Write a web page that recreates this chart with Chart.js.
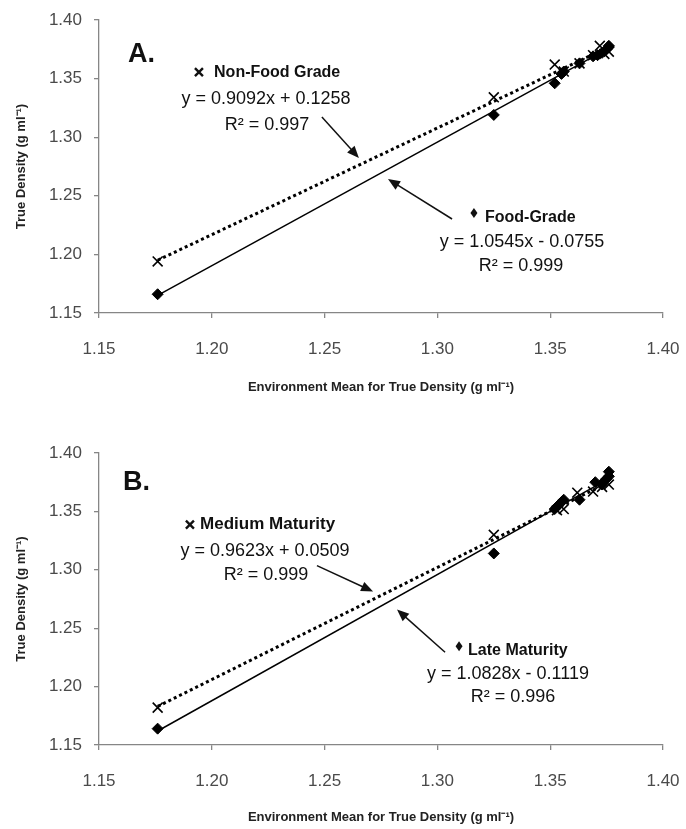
<!DOCTYPE html>
<html>
<head>
<meta charset="utf-8">
<script src="https://cdn.jsdelivr.net/npm/chart.js@4.4.1/dist/chart.umd.min.js"></script>
<style>
  html, body { margin: 0; padding: 0; background: #fff; }
  canvas { display: block; }
</style>
</head>
<body>
<canvas id="panelA" width="686" height="415"></canvas>
<canvas id="panelB" width="686" height="414"></canvas>
<script>
// Ejes compartidos
const xTicks = [1.15, 1.20, 1.25, 1.30, 1.35, 1.40];
const yTicks = [1.15, 1.20, 1.25, 1.30, 1.35, 1.40];

// Panel A: Food-Grade (rombos) y Non-Food Grade (cruces)
const foodX = [1.176, 1.325, 1.352, 1.355, 1.356, 1.363, 1.369, 1.371, 1.373, 1.375, 1.376, 1.376];
const foodY = [1.166, 1.319, 1.346, 1.354, 1.356, 1.363, 1.369, 1.370, 1.372, 1.375, 1.377, 1.378];
const nonFoodX = [1.176, 1.325, 1.352, 1.356, 1.363, 1.369, 1.372, 1.374, 1.376];
const nonFoodY = [1.194, 1.334, 1.362, 1.356, 1.363, 1.370, 1.378, 1.371, 1.373];
const foodTrendX = [1.176, 1.376];
const foodTrendY = [1.165, 1.376];
const nonFoodTrendX = [1.176, 1.376];
const nonFoodTrendY = [1.195, 1.377];

// Panel B: Late Maturity (rombos) y Medium Maturity (cruces)
const lateX = [1.176, 1.325, 1.352, 1.353, 1.354, 1.355, 1.356, 1.363, 1.370, 1.373, 1.374, 1.375, 1.376, 1.376];
const lateY = [1.164, 1.314, 1.352, 1.354, 1.356, 1.358, 1.360, 1.360, 1.375, 1.373, 1.376, 1.378, 1.380, 1.384];
const mediumX = [1.176, 1.325, 1.353, 1.356, 1.362, 1.369, 1.373, 1.376];
const mediumY = [1.182, 1.330, 1.351, 1.352, 1.366, 1.367, 1.371, 1.373];
const lateTrendX = [1.176, 1.376];
const lateTrendY = [1.162, 1.378];
const mediumTrendX = [1.176, 1.376];
const mediumTrendY = [1.183, 1.375];

const TXT = '#111';
const EJE = '#868686';
const FUENTE = '"Liberation Sans", Arial, sans-serif';

function toPoints(xs, ys) {
    return xs.map((v, i) => ({ x: v, y: ys[i] }));
}

// Flecha con punta rellena
function drawArrow(ctx, x0, y0, x1, y1) {
    const ang = Math.atan2(y1 - y0, x1 - x0);
    const len = 12, half = 5;
    ctx.beginPath();
    ctx.moveTo(x0, y0);
    ctx.lineTo(x1 - Math.cos(ang) * len * 0.8, y1 - Math.sin(ang) * len * 0.8);
    ctx.lineWidth = 1.5;
    ctx.stroke();
    ctx.beginPath();
    ctx.moveTo(x1, y1);
    ctx.lineTo(x1 - Math.cos(ang) * len + Math.sin(ang) * half, y1 - Math.sin(ang) * len - Math.cos(ang) * half);
    ctx.lineTo(x1 - Math.cos(ang) * len - Math.sin(ang) * half, y1 - Math.sin(ang) * len + Math.cos(ang) * half);
    ctx.closePath();
    ctx.fill();
}

function drawNotes(chart, notes) {
    const { ctx, scales: { x, y } } = chart;
    ctx.save();
    ctx.fillStyle = TXT;
    ctx.strokeStyle = TXT;
    ctx.textBaseline = 'middle';
    notes.texts.forEach(t => {
        ctx.font = t.font;
        ctx.textAlign = t.align || 'center';
        ctx.fillText(t.text, x.getPixelForValue(t.x), y.getPixelForValue(t.y));
    });
    notes.arrows.forEach(a => {
        drawArrow(ctx, x.getPixelForValue(a[0]), y.getPixelForValue(a[1]),
                  x.getPixelForValue(a[2]), y.getPixelForValue(a[3]));
    });
    // marcador cruz de la leyenda
    const cx = x.getPixelForValue(notes.cross[0]), cy = y.getPixelForValue(notes.cross[1]);
    ctx.lineWidth = 2.4;
    ctx.beginPath();
    ctx.moveTo(cx - 4, cy - 4); ctx.lineTo(cx + 4, cy + 4);
    ctx.moveTo(cx + 4, cy - 4); ctx.lineTo(cx - 4, cy + 4);
    ctx.stroke();
    // marcador rombo de la leyenda
    const dx = x.getPixelForValue(notes.diamond[0]), dy = y.getPixelForValue(notes.diamond[1]);
    ctx.beginPath();
    ctx.moveTo(dx, dy - 5); ctx.lineTo(dx + 3.5, dy); ctx.lineTo(dx, dy + 5); ctx.lineTo(dx - 3.5, dy);
    ctx.closePath();
    ctx.fill();
    ctx.restore();
}

function buildPanel(canvasId, cfg) {
    const ctx = document.getElementById(canvasId).getContext('2d');
    return new Chart(ctx, {
        type: 'scatter',
        data: {
            datasets: [
                {
                    label: cfg.crossName,
                    data: toPoints(cfg.crossX, cfg.crossY),
                    pointStyle: 'crossRot',
                    pointRadius: 7,
                    borderColor: '#000',
                    borderWidth: 1.6
                },
                {
                    label: cfg.diamondName,
                    data: toPoints(cfg.diamondX, cfg.diamondY),
                    pointStyle: 'rectRot',
                    pointRadius: 5.5,
                    backgroundColor: '#000',
                    borderColor: '#000',
                    borderWidth: 1
                },
                {
                    label: 'Tendencia ' + cfg.crossName,
                    data: toPoints(cfg.crossTrendX, cfg.crossTrendY),
                    showLine: true,
                    pointRadius: 0,
                    borderColor: '#000',
                    borderWidth: 3,
                    borderDash: [3, 3]
                },
                {
                    label: 'Tendencia ' + cfg.diamondName,
                    data: toPoints(cfg.diamondTrendX, cfg.diamondTrendY),
                    showLine: true,
                    pointRadius: 0,
                    borderColor: '#000',
                    borderWidth: 1.5
                }
            ]
        },
        options: {
            responsive: false,
            animation: false,
            layout: { padding: { left: 0, right: 23, top: cfg.top, bottom: 0 } },
            plugins: {
                legend: { display: false },
                tooltip: { enabled: false }
            },
            scales: {
                x: {
                    type: 'linear',
                    min: 1.15,
                    max: 1.40,
                    afterBuildTicks: s => { s.ticks = xTicks.map(v => ({ value: v })); },
                    // el padding de las etiquetas no debe encoger el área del gráfico
                    afterFit: s => { s.height = cfg.xHeight; s.paddingLeft = 0; s.paddingRight = 0; },
                    ticks: {
                        callback: v => v.toFixed(2),
                        color: '#4a4a4a',
                        font: { family: FUENTE, size: 17 },
                        padding: 21,
                        maxRotation: 0
                    },
                    grid: { drawOnChartArea: false, tickLength: 5, color: EJE, lineWidth: 1.3 },
                    border: { color: EJE, width: 1.3 },
                    title: {
                        display: true,
                        text: 'Environment Mean for True Density (g ml⁻¹)',
                        color: '#222',
                        font: { family: FUENTE, size: 13, weight: 'bold' },
                        padding: { bottom: cfg.xTitlePad }
                    }
                },
                y: {
                    type: 'linear',
                    min: 1.15,
                    max: 1.40,
                    afterBuildTicks: s => { s.ticks = yTicks.map(v => ({ value: v })); },
                    afterFit: s => { s.width = 99; s.paddingTop = 0; s.paddingBottom = 0; },
                    ticks: {
                        callback: v => v.toFixed(2),
                        color: '#4a4a4a',
                        font: { family: FUENTE, size: 17 },
                        padding: 12
                    },
                    grid: { drawOnChartArea: false, tickLength: 5, color: EJE, lineWidth: 1.3 },
                    border: { color: EJE, width: 1.3 },
                    title: {
                        display: true,
                        text: 'True Density (g ml⁻¹)',
                        color: '#222',
                        font: { family: FUENTE, size: 13, weight: 'bold' },
                        padding: { top: 14 }
                    }
                }
            }
        },
        plugins: [{ id: 'notas', afterDatasetsDraw: chart => drawNotes(chart, cfg.notes) }]
    });
}

const F_EQ = '18px ' + FUENTE;
const F_PANEL = 'bold 27px ' + FUENTE;

buildPanel('panelA', {
    top: 20, xHeight: 102, xTitlePad: 20,
    crossName: 'Non-Food Grade', diamondName: 'Food-Grade',
    crossX: nonFoodX, crossY: nonFoodY, diamondX: foodX, diamondY: foodY,
    crossTrendX: nonFoodTrendX, crossTrendY: nonFoodTrendY,
    diamondTrendX: foodTrendX, diamondTrendY: foodTrendY,
    notes: {
        texts: [
            { text: 'A.', x: 1.1629, y: 1.3701, font: F_PANEL, align: 'left' },
            { text: 'Non-Food Grade', x: 1.2010, y: 1.3548, font: 'bold 16px ' + FUENTE, align: 'left' },
            { text: 'y = 0.9092x + 0.1258', x: 1.2240, y: 1.3326, font: F_EQ },
            { text: 'R² = 0.997', x: 1.2245, y: 1.3104, font: F_EQ },
            { text: 'Food-Grade', x: 1.3211, y: 1.2311, font: 'bold 16px ' + FUENTE, align: 'left' },
            { text: 'y = 1.0545x - 0.0755', x: 1.3375, y: 1.2106, font: F_EQ },
            { text: 'R² = 0.999', x: 1.3371, y: 1.1901, font: F_EQ }
        ],
        arrows: [
            [1.2488, 1.3172, 1.2652, 1.2823],
            [1.3065, 1.2302, 1.2781, 1.2643]
        ],
        cross: [1.1943, 1.3556],
        diamond: [1.3162, 1.2353]
    }
});

buildPanel('panelB', {
    top: 38, xHeight: 84, xTitlePad: 4,
    crossName: 'Medium Maturity', diamondName: 'Late Maturity',
    crossX: mediumX, crossY: mediumY, diamondX: lateX, diamondY: lateY,
    crossTrendX: mediumTrendX, crossTrendY: mediumTrendY,
    diamondTrendX: lateTrendX, diamondTrendY: lateTrendY,
    notes: {
        texts: [
            { text: 'B.', x: 1.1606, y: 1.3744, font: F_PANEL, align: 'left' },
            { text: 'Medium Maturity', x: 1.1948, y: 1.3386, font: 'bold 17px ' + FUENTE, align: 'left' },
            { text: 'y = 0.9623x + 0.0509', x: 1.2236, y: 1.3164, font: F_EQ },
            { text: 'R² = 0.999', x: 1.2240, y: 1.2959, font: F_EQ },
            { text: 'Late Maturity', x: 1.3136, y: 1.2311, font: 'bold 16px ' + FUENTE, align: 'left' },
            { text: 'y = 1.0828x - 0.1119', x: 1.3313, y: 1.2106, font: F_EQ },
            { text: 'R² = 0.996', x: 1.3335, y: 1.1910, font: F_EQ }
        ],
        arrows: [
            [1.2466, 1.3036, 1.2715, 1.2814],
            [1.3034, 1.2294, 1.2821, 1.2660]
        ],
        cross: [1.1903, 1.3386],
        diamond: [1.3096, 1.2345]
    }
});
</script>
</body>
</html>
